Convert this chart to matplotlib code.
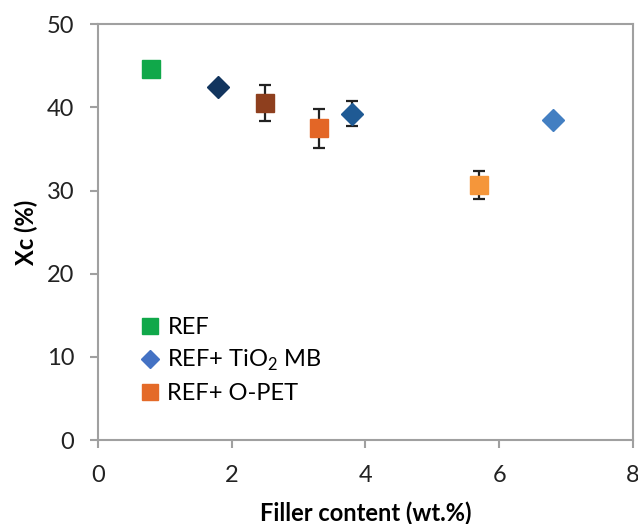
import matplotlib
matplotlib.use('Agg')
import matplotlib.pyplot as plt
from matplotlib.lines import Line2D

plt.rcParams['font.family'] = ['Lato', 'DejaVu Sans']
plt.rcParams['mathtext.fontset'] = 'custom'
plt.rcParams['mathtext.rm'] = 'Lato'

# Data
ref_x = [0.8]
ref_y = [44.6]
ref_err = [0.0]
ref_colors = ['#10A84A']

tio2_x = [1.8, 3.8, 6.8]
tio2_y = [42.4, 39.2, 38.5]
tio2_err = [0.4, 1.5, 0.0]
tio2_colors = ['#12355E', '#1F5A94', '#437FC2']

opet_x = [2.5, 3.3, 5.7]
opet_y = [40.5, 37.5, 30.7]
opet_err = [2.2, 2.35, 1.7]
opet_colors = ['#8E3F1E', '#E36626', '#F5963A']

legend_labels = ['REF', 'REF+ TiO$_2$ MB', 'REF+ O-PET']
legend_colors = ['#10A84A', '#4472C4', '#E46A28']
legend_markers = ['s', 'D', 's']

fig = plt.figure(figsize=(6.38, 5.24), dpi=100)
ax = fig.add_axes([0.1536, 0.160, 0.8384, 0.794])

def draw(xs, ys, errs, colors, marker, ms):
    for x, y, e, c in zip(xs, ys, errs, colors):
        ax.errorbar([x], [y], yerr=[e] if e > 0 else None, fmt=marker, ms=ms,
                    color=c, mec=c, ecolor='#222222', elinewidth=1.6,
                    capsize=4, capthick=1.6)

draw(ref_x, ref_y, ref_err, ref_colors, 's', 13.5)
draw(opet_x, opet_y, opet_err, opet_colors, 's', 13.5)
draw(tio2_x, tio2_y, tio2_err, tio2_colors, 'D', 11.5)

ax.set_xlim(0, 8)
ax.set_ylim(0, 50)
ax.set_xticks([0, 2, 4, 6, 8])
ax.set_yticks([0, 10, 20, 30, 40, 50])

for s in ax.spines.values():
    s.set_color('#A0A0A0')
    s.set_linewidth(1.5)
ax.tick_params(axis='both', colors='#A0A0A0', labelcolor='#222222',
               length=6, width=1.5, labelsize=17)
ax.tick_params(axis='y', pad=11)
ax.tick_params(axis='x', pad=12)

ax.set_xlabel('Filler content (wt.%)', fontsize=17, fontweight='bold', labelpad=11)
ax.set_ylabel('Xc (%)', fontsize=17, fontweight='bold', labelpad=6)

handles = [Line2D([], [], linestyle='none', marker=m, color=c, ms=(11 if m == 's' else 9))
           for m, c in zip(legend_markers, legend_colors)]
ax.legend(handles, legend_labels, loc='lower left', bbox_to_anchor=(0.035, 0.035),
          frameon=False, fontsize=17, handletextpad=0.25, labelspacing=0.42,
          handlelength=1.0)

fig.savefig('out.png', dpi=100)
